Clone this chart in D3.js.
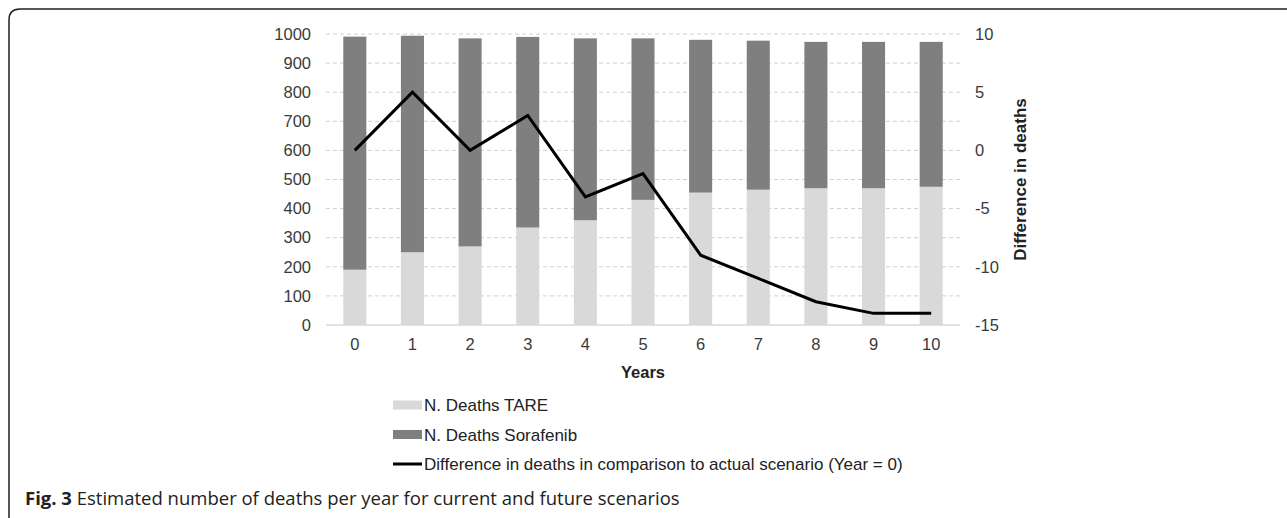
<!DOCTYPE html>
<html>
<head>
<meta charset="utf-8">
<script src="https://cdn.jsdelivr.net/npm/d3@7"></script>
<style>
  body { margin: 0; background: #fff; }
  svg { display: block; }
</style>
</head>
<body>
<svg id="chart"></svg>
<script>
const years = ["0", "1", "2", "3", "4", "5", "6", "7", "8", "9", "10"];
const deathsTare = [190, 250, 270, 335, 360, 430, 455, 465, 470, 470, 475];
const deathsSorafenib = [801, 744, 715, 655, 625, 555, 525, 512, 503, 503, 498];
const diffDeaths = [0, 5, 0, 3, -4, -2, -9, -11, -13, -14, -14];
const leftTicks = [0, 100, 200, 300, 400, 500, 600, 700, 800, 900, 1000];
const rightTicks = [-15, -10, -5, 0, 5, 10];

const width = 1287, height = 518;
const margin = { left: 326, right: 327, top: 34, bottom: 193 };
const font = "'Liberation Sans', Arial, sans-serif";

const svg = d3.select("#chart")
              .attr("width", width)
              .attr("height", height);

// figure frame
svg.append("path")
   .attr("d", "M9,540 L9,20 Q9,9 20,9 L1295,9")
   .attr("fill", "none")
   .attr("stroke", "#222")
   .attr("stroke-width", 1.5);

const x = d3.scaleBand()
            .domain(years)
            .range([margin.left, width - margin.right])
            .paddingInner(0.6)
            .paddingOuter(0.3);

const y = d3.scaleLinear()
            .domain([0, 1000])
            .range([height - margin.bottom, margin.top]);

const y2 = d3.scaleLinear()
             .domain([-15, 10])
             .range([height - margin.bottom, margin.top]);

// gridlines
svg.append("g")
   .selectAll("line")
   .data(leftTicks.filter(d => d > 0))
   .enter()
   .append("line")
   .attr("x1", margin.left)
   .attr("x2", width - margin.right)
   .attr("y1", d => y(d))
   .attr("y2", d => y(d))
   .attr("stroke", "#d0d0d0")
   .attr("stroke-dasharray", "4,3");

// stacked bars
const stacked = years.map((yr, i) => ({ yr, tare: deathsTare[i], sor: deathsSorafenib[i] }));

svg.append("g")
   .selectAll("rect")
   .data(stacked)
   .enter()
   .append("rect")
   .attr("x", d => x(d.yr))
   .attr("width", x.bandwidth())
   .attr("y", d => y(d.tare))
   .attr("height", d => y(0) - y(d.tare))
   .attr("fill", "#d9d9d9");

svg.append("g")
   .selectAll("rect")
   .data(stacked)
   .enter()
   .append("rect")
   .attr("x", d => x(d.yr))
   .attr("width", x.bandwidth())
   .attr("y", d => y(d.tare + d.sor))
   .attr("height", d => y(d.tare) - y(d.tare + d.sor))
   .attr("fill", "#7f7f7f");

// baseline
svg.append("line")
   .attr("x1", margin.left)
   .attr("x2", width - margin.right)
   .attr("y1", y(0))
   .attr("y2", y(0))
   .attr("stroke", "#d9d9d9")
   .attr("stroke-width", 1.5);

// difference line
const line = d3.line()
               .x((d, i) => x(years[i]) + x.bandwidth() / 2)
               .y(d => y2(d));

svg.append("path")
   .datum(diffDeaths)
   .attr("d", line)
   .attr("fill", "none")
   .attr("stroke", "#000")
   .attr("stroke-width", 3);

// axes
const styleAxis = g => {
    g.select(".domain").remove();
    g.selectAll(".tick line").remove();
    g.selectAll("text")
     .attr("font-family", font)
     .attr("font-size", 16.5)
     .attr("fill", "#3a3a3a");
};

svg.append("g")
   .attr("transform", `translate(${margin.left - 5},0)`)
   .call(d3.axisLeft(y).tickValues(leftTicks).tickFormat(d3.format("d")).tickSize(0).tickPadding(10))
   .call(styleAxis);

svg.append("g")
   .attr("transform", `translate(${width - margin.right + 5},0)`)
   .call(d3.axisRight(y2).tickValues(rightTicks).tickFormat(d => String(d)).tickSize(0).tickPadding(10))
   .call(styleAxis);

svg.append("g")
   .attr("transform", `translate(0,${y(0)})`)
   .call(d3.axisBottom(x).tickSize(0).tickPadding(13))
   .call(styleAxis);

// axis titles
svg.append("text")
   .attr("x", (margin.left + width - margin.right) / 2)
   .attr("y", 378)
   .attr("text-anchor", "middle")
   .attr("font-family", font)
   .attr("font-size", 16.5)
   .attr("font-weight", "bold")
   .attr("fill", "#222")
   .text("Years");

svg.append("text")
   .attr("transform", `translate(1026,${(y2(10) + y2(-15)) / 2}) rotate(-90)`)
   .attr("text-anchor", "middle")
   .attr("font-family", font)
   .attr("font-size", 17)
   .attr("font-weight", "bold")
   .attr("fill", "#222")
   .text("Difference in deaths");

// legend
const legend = [
    { label: "N. Deaths TARE", type: "rect", color: "#d9d9d9" },
    { label: "N. Deaths Sorafenib", type: "rect", color: "#7f7f7f" },
    { label: "Difference in deaths in comparison to actual scenario (Year = 0)", type: "line", color: "#000" }
];

const lg = svg.append("g")
              .selectAll("g")
              .data(legend)
              .enter()
              .append("g")
              .attr("transform", (d, i) => `translate(393,${405 + i * 29.5})`);

lg.filter(d => d.type === "rect")
  .append("rect")
  .attr("x", 0)
  .attr("y", -4.5)
  .attr("width", 29)
  .attr("height", 9)
  .attr("fill", d => d.color);

lg.filter(d => d.type === "line")
  .append("line")
  .attr("x1", 0)
  .attr("x2", 29)
  .attr("y1", 0)
  .attr("y2", 0)
  .attr("stroke", d => d.color)
  .attr("stroke-width", 3);

lg.append("text")
  .attr("x", 31)
  .attr("y", 6)
  .attr("font-family", font)
  .attr("font-size", 17)
  .attr("fill", "#222")
  .text(d => d.label);

// caption
const cap = svg.append("text")
               .attr("x", 25)
               .attr("y", 505)
               .attr("font-family", "'Open Sans', 'Noto Sans', sans-serif")
               .attr("font-size", 18.5)
               .attr("fill", "#222");
cap.append("tspan").attr("font-weight", "bold").text("Fig. 3");
cap.append("tspan").text(" Estimated number of deaths per year for current and future scenarios");
</script>
</body>
</html>
